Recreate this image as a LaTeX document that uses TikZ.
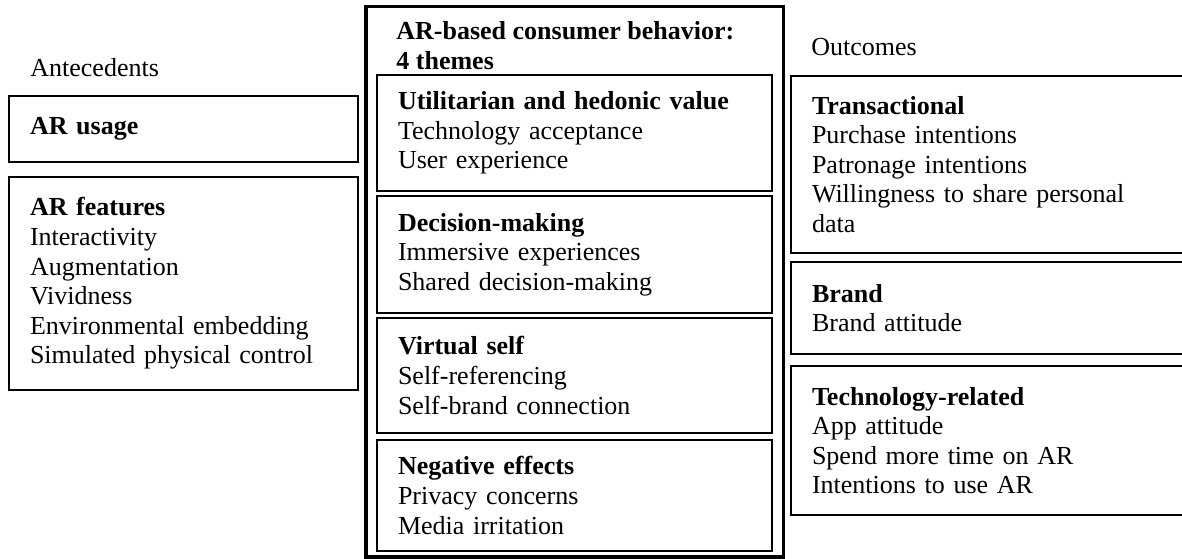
\documentclass[tikz,border=0pt]{standalone}
\usepackage{fontspec}
\setmainfont{Liberation Serif}
\usetikzlibrary{positioning}

\tikzset{
  catbox/.style={draw, line width=.6pt, outer sep=0pt, anchor=north west, align=left, inner xsep=10.5pt, inner ysep=0pt},
  leftbox/.style={catbox, text width=153.5pt, minimum width=174.5pt},
  midbox/.style={catbox, text width=176.5pt, minimum width=197.5pt},
  rightbox/.style={catbox, text width=179pt, minimum width=200pt},
  caption/.style={anchor=base west, inner sep=0pt, align=left}
}

\begin{document}
\begin{tikzpicture}[x=0.5pt, y=-0.5pt, font=\fontsize{13}{14.8}\selectfont]
\useasboundingbox (0,0) rectangle (1182,558);

\node[caption] (ante) at (30,76) {Antecedents};
\node[leftbox, minimum height=33pt] (usage) at (9,96) {\textbf{AR usage}};
\node[leftbox, minimum height=106.5pt, below=7.5pt of usage.south west, anchor=north west] (features)
  {\textbf{AR features}\\Interactivity\\Augmentation\\Vividness\\Environmental embedding\\Simulated physical control};

\draw[line width=1.7pt] (366,6.5) rectangle (783.5,557);
\node[caption, font=\fontsize{13}{14.8}\selectfont\bfseries] (title) at (396,69) {AR-based consumer behavior:\\4 themes};
\node[midbox, minimum height=58pt] (util) at (377,75)
  {\textbf{Utilitarian and hedonic value}\\Technology acceptance\\User experience};
\node[midbox, minimum height=58.5pt, below=2.5pt of util.south west, anchor=north west] (decision)
  {\textbf{Decision-making}\\Immersive experiences\\Shared decision-making};
\node[midbox, minimum height=57.5pt, below=2.5pt of decision.south west, anchor=north west] (vself)
  {\textbf{Virtual self}\\Self-referencing\\Self-brand connection};
\node[midbox, minimum height=55.5pt, below=3.5pt of vself.south west, anchor=north west] (negative)
  {\textbf{Negative effects}\\Privacy concerns\\Media irritation};

\node[caption] (outc) at (811,55) {Outcomes};
\node[rightbox, minimum height=88.5pt] (trans) at (791,76)
  {\textbf{Transactional}\\Purchase intentions\\Patronage intentions\\Willingness to share personal\\data};
\node[rightbox, minimum height=46pt, below=4.5pt of trans.south west, anchor=north west] (brand)
  {\textbf{Brand}\\Brand attitude};
\node[rightbox, minimum height=74.5pt, below=6pt of brand.south west, anchor=north west] (tech)
  {\textbf{Technology-related}\\App attitude\\Spend more time on AR\\Intentions to use AR};

\end{tikzpicture}
\end{document}
